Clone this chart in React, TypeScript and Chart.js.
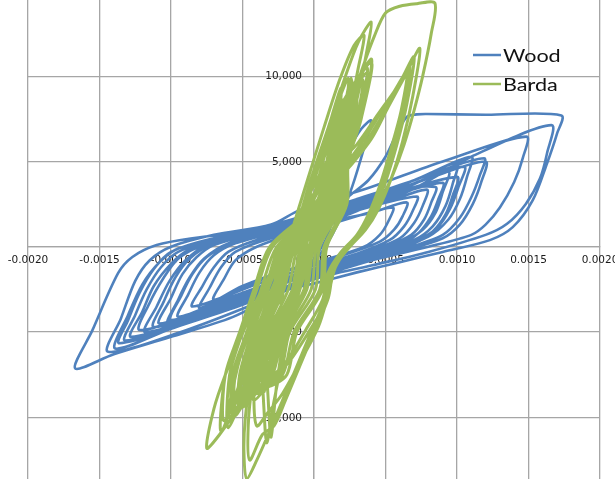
import React, { useEffect, useRef } from "react";
import { Chart, registerables } from "chart.js";

Chart.register(...registerables);

// Strain (x) / force (y) hysteresis histories for the two specimens.
const WOOD: [number, number][] = [
  [0, 0], [0.00005, 900], [0.0001, 2000], [0.00015, 2800], [0.00018, 3000],
  [0.00014, 1800], [0.00008, 400], [0, -700], [-0.00008, -1600], [-0.00013, -2300], [-0.00015, -2600],
  [-0.00011, -1500], [-0.00005, -300], [0.00003, 1000], [0.0001, 2600], [0.00016, 4200], [0.00021, 5600], [0.00025, 6660],
  [0.0002, 4800], [0.00013, 2600], [0.00005, 800], [-0.00004, -900], [-0.00012, -2600], [-0.0002, -4300], [-0.00024, -5500], [-0.00026, -6230],
  [-0.0002, -4300], [-0.00013, -2300], [-0.00004, -300], [0.00005, 1500], [0.00014, 3600], [0.00024, 5600], [0.00033, 6900], [0.0004, 7400],
  [0.00035, 5800], [0.00027, 3600], [0.00018, 1600], [0.00008, 0], [-0.00005, -1500], [-0.00015, -3200], [-0.0002, -4500], [-0.00024, -5600], [-0.00027, -6450], [-0.00036, -7200], [-0.0005, -7400],
  [-0.00046, -5800], [-0.0004, -4000], [-0.00032, -2400], [-0.0002, -900], [-0.00005, 500], [0.0001, 1900], [0.00025, 3000], [0.00038, 3900], [0.0005, 5280], [0.00058, 6660], [0.00065, 7620], [0.00072, 7760], [0.00079, 7780], [0.0012, 7740], [0.00173, 7700],
  [0.0017, 6650], [0.00163, 4900], [0.00153, 2730], [0.00139, 1150], [0.00123, 390], [0.0009, -300], [0.0006, -900], [0.0003, -1500], [0, -2150], [-0.00019, -2540], [-0.00057, -4120], [-0.00101, -5300], [-0.0014, -6300], [-0.00167, -7130],
  [-0.00155, -4900], [-0.00137, -1550], [-0.00127, -600], [-0.0011, 100], [-0.00085, 500], [-0.00038, 980], [0, 1560], [0.00063, 3140], [0.0011, 5280], [0.00166, 7130],
  [0.00163, 5500], [0.00158, 4000], [0.00148, 2500], [0.00135, 1350], [0.0012, 700], [0.0008, -300], [0.0004, -1100], [0, -1900], [-0.0004, -3300], [-0.0009, -4900], [-0.00144, -6150],
  [-0.00135, -4200], [-0.00125, -2000], [-0.00115, -800], [-0.001, 0], [-0.0007, 700], [-0.0003, 1300], [-0.0001, 2150], [0.0004, 3500], [0.0009, 5000], [0.001485, 6460],
  [0.00146, 5200], [0.0014, 3800], [0.0013, 2300], [0.0012, 1300], [0.0011, 700], [0.0008, 0], [0.0004, -800], [0, -1700], [-0.0005, -3400], [-0.001, -4800], [-0.00139, -5960],
  [-0.0013, -4000], [-0.0012, -2200], [-0.00108, -900], [-0.00095, -100], [-0.0006, 600], [-0.0002, 1400], [0.0003, 2700], [0.0008, 4200], [0.00119, 5190],
  [0.00116, 4200], [0.0011, 2900], [0.00102, 1700], [0.0009, 700], [0.0006, -200], [0.0002, -1100], [-0.0002, -2100], [-0.0007, -3900], [-0.00136, -5650],
  [-0.0013, -4300], [-0.00122, -2700], [-0.00112, -1300], [-0.001, -300], [-0.0007, 500], [-0.0003, 1100], [0.0002, 2300], [0.0007, 3900], [0.0011, 5280],
  [0.00107, 4100], [0.00102, 2800], [0.00094, 1600], [0.0008, 600], [0.0005, -300], [0.0001, -1300], [-0.0003, -2400], [-0.0008, -4000], [-0.00128, -5280],
  [-0.0012, -3800], [-0.00112, -2300], [-0.001, -1000], [-0.00088, -200], [-0.0006, 600], [-0.0002, 1500], [0.0003, 2800], [0.0007, 3900], [0.001, 4900],
  [0.00097, 3700], [0.00092, 2400], [0.00083, 1200], [0.0007, 400], [0.0004, -400], [0, -1400], [-0.0004, -2600], [-0.0008, -3800], [-0.00122, -4880],
  [-0.00115, -3300], [-0.00105, -1800], [-0.00095, -700], [-0.0008, 0], [-0.0005, 700], [-0.0001, 1500], [0.0004, 2700], [0.001, 4100],
  [0.00097, 3000], [0.00092, 1900], [0.00083, 900], [0.0007, 200], [0.0004, -600], [0, -1500], [-0.0005, -2800], [-0.00108, -4500],
  [-0.001, -3000], [-0.00092, -1600], [-0.00082, -600], [-0.0007, 100], [-0.0004, 800], [0, 1600], [0.0004, 2600], [0.0009, 3750],
  [0.00087, 2800], [0.00082, 1800], [0.00073, 800], [0.0006, 100], [0.0003, -700], [-0.0001, -1600], [-0.0005, -2900], [-0.001, -4300],
  [-0.00093, -2900], [-0.00085, -1600], [-0.00075, -600], [-0.0006, 100], [-0.0003, 900], [0.0001, 1800], [0.0005, 2600], [0.00079, 3350],
  [0.00076, 2400], [0.0007, 1400], [0.0006, 500], [0.0004, -200], [0.0001, -1000], [-0.0003, -2100], [-0.0006, -3000], [-0.00095, -4100],
  [-0.00088, -2800], [-0.0008, -1500], [-0.0007, -500], [-0.00055, 200], [-0.0002, 1000], [0.0002, 1900], [0.00072, 2950],
  [0.00069, 2100], [0.00063, 1200], [0.00053, 400], [0.0003, -400], [0, -1100], [-0.0004, -2200], [-0.00085, -3500],
  [-0.00078, -2300], [-0.0007, -1200], [-0.0006, -300], [-0.0004, 400], [0, 1300], [0.0004, 2000], [0.00065, 2600],
  [0.00062, 1800], [0.00056, 1000], [0.00046, 300], [0.0002, -500], [-0.0002, -1400], [-0.0005, -2300], [-0.0008, -3600],
  [-0.00073, -2400], [-0.00065, -1200], [-0.00055, -300], [-0.0003, 500], [0.0001, 1300], [0.00055, 2300],
  [0.00052, 1500], [0.00046, 700], [0.00035, 0], [0.0001, -700], [-0.0003, -1700], [-0.0007, -3100],
  [-0.00063, -1900], [-0.00055, -800], [-0.0004, 0], [-0.0001, 900], [0.0003, 2100], [0.0006, 3300], [0.00094, 4400],
  [0.0009, 3200], [0.00085, 2000], [0.00076, 1000], [0.0006, 200], [0.0002, -900], [-0.0002, -2000], [-0.0006, -3300], [-0.00112, -4700],
  [-0.00105, -3200], [-0.00097, -1800], [-0.00087, -700], [-0.0007, 200], [-0.0003, 1000], [0.0001, 2000], [0.0006, 3400], [0.00105, 4700],
  [0.00101, 3500], [0.00095, 2200], [0.00086, 1100], [0.0007, 300], [0.0003, -800], [-0.0001, -1800], [-0.0006, -3500], [-0.00118, -5000],
  [-0.0011, -3500], [-0.00101, -2000], [-0.0009, -800], [-0.00075, 100], [-0.0004, 900], [0, 1800], [0.0005, 3200], [0.00085, 3500],
  [0.00082, 2600], [0.00077, 1600], [0.00068, 700], [0.0005, 0], [0.0002, -800], [-0.0002, -1900], [-0.0006, -3200], [-0.00102, -4500],
  [-0.00095, -3100], [-0.00087, -1800], [-0.00077, -700], [-0.0006, 200], [-0.0002, 1100], [0.0003, 2500], [0.0008, 4000], [0.0012, 5000],
  [0.00117, 3800], [0.00111, 2500], [0.00102, 1300], [0.0009, 500], [0.0006, -300], [0.0002, -1300], [-0.0003, -2700], [-0.0008, -4100], [-0.00132, -5500],
  [-0.00125, -4000], [-0.00117, -2500], [-0.00107, -1200], [-0.00095, -300], [-0.0007, 400], [-0.0003, 1200], [0.0001, 2000], [0.0003, 2400],
];

const BARDA: [number, number][] = [
  [0, 0], [0.00004, 2000], [0.0001, 4000],
  [0.00005, 1500], [-0.00005, -1000], [-0.00015, -3000],
  [-0.00013, -1500], [-0.00008, 500], [0, 3000], [0.00008, 5500], [0.00013, 6650],
  [0.0001, 4500], [0.00004, 2000], [-0.00005, -500], [-0.00013, -2800], [-0.0002, -4800], [-0.00025, -6000],
  [-0.00024, -4000], [-0.0002, -2000], [-0.00012, 500], [-0.00003, 3000], [0.00006, 5500], [0.00013, 7800], [0.00019, 9300],
  [0.00016, 7000], [0.0001, 4500], [0.00002, 2000], [-0.00008, -500], [-0.00017, -3000], [-0.00026, -5500], [-0.00032, -7300], [-0.00035, -8500],
  [-0.00034, -6500], [-0.0003, -4000], [-0.00022, -1500], [-0.00013, 1000], [-0.00003, 3500], [0.00008, 6000], [0.00017, 8500], [0.00024, 9870],
  [0.00022, 8000], [0.00017, 5500], [0.0001, 3000], [0, 500], [-0.0001, -2200], [-0.0002, -5000], [-0.00026, -8000], [-0.0003, -11150],
  [-0.00032, -9000], [-0.00033, -6500], [-0.0003, -4000], [-0.00022, -1500], [-0.00012, 1200], [-0.00002, 4000], [0.0001, 7000], [0.00022, 10000], [0.00031, 12000], [0.0004, 13170],
  [0.00037, 11500], [0.00031, 9000], [0.00024, 6500], [0.00016, 4000], [0.00006, 1500], [-0.00005, -1200], [-0.00015, -4000], [-0.00023, -7000], [-0.00029, -9500], [-0.00033, -11500],
  [-0.00035, -9500], [-0.00036, -7000], [-0.00033, -4500], [-0.00026, -2000], [-0.00016, 800], [-0.00005, 3800], [0.00007, 7000], [0.00018, 9800], [0.00028, 11800], [0.00035, 12400],
  [0.00031, 10500], [0.00025, 8000], [0.00018, 5500], [0.0001, 3000], [0, 500], [-0.00012, -2200], [-0.00025, -4800], [-0.00038, -7200], [-0.00052, -9300], [-0.00066, -11000], [-0.00075, -11800],
  [-0.0007, -9500], [-0.00062, -7500], [-0.00052, -5500], [-0.0004, -3100], [-0.0003, -1550], [-0.00017, 400], [-0.00005, 2500], [0.00008, 4000], [0.00018, 5000], [0.0003, 6000], [0.00045, 7800], [0.00056, 9100], [0.00065, 10260],
  [0.00061, 8000], [0.00054, 5800], [0.00046, 3600], [0.00038, 1900], [0.0003, 700], [0.00018, -400], [0.0001, -1500], [0.00006, -3100], [-0.00006, -4900], [-0.0002, -6800], [-0.00035, -8000], [-0.0005, -9000],
  [-0.00045, -7000], [-0.0004, -5000], [-0.00032, -3000], [-0.00022, -1000], [-0.0001, 1200], [0.00003, 3300], [0.0002, 4600], [0.00035, 6300], [0.00047, 7900], [0.00058, 9300], [0.00067, 10650],
  [0.00063, 8200], [0.00056, 5900], [0.00048, 3700], [0.0004, 2000], [0.00032, 800], [0.0002, -300], [0.00012, -1500], [0.00008, -3000], [-0.00002, -5000], [-0.00012, -7000], [-0.00022, -9000], [-0.00032, -11000], [-0.0004, -12500], [-0.00047, -13600],
  [-0.00049, -12000], [-0.00048, -10000], [-0.00044, -7500], [-0.00038, -5000], [-0.0003, -2700], [-0.0002, -600], [-0.00008, 1600], [0.00005, 3000], [0.0002, 4400], [0.00036, 6100], [0.0005, 8000], [0.0006, 9600], [0.0007, 11140],
  [0.00065, 8400], [0.00058, 6000], [0.0005, 3800], [0.00042, 2100], [0.00034, 900], [0.00022, -200], [0.00013, -1400], [0.00009, -3100], [-0.00003, -4900], [-0.00018, -6800], [-0.00035, -8200], [-0.0005, -9200], [-0.0006, -10000],
  [-0.00056, -8000], [-0.0005, -6000], [-0.00042, -4000], [-0.00033, -2000], [-0.00022, 0], [-0.00005, 1800], [0.0001, 3300], [0.00025, 4700], [0.0004, 6300], [0.00052, 8200], [0.00063, 9900], [0.00074, 11630],
  [0.00069, 8800], [0.00062, 6200], [0.00054, 4000], [0.00045, 2200], [0.00036, 1000], [0.00024, -100], [0.00014, -1300], [0.0001, -3000], [0, -5000], [-0.0001, -7000], [-0.0002, -9000], [-0.00028, -10500], [-0.00036, -11000], [-0.00045, -12500],
  [-0.00046, -10500], [-0.00043, -8000], [-0.00037, -5500], [-0.00029, -3000], [-0.0002, -800], [-0.00008, 1500], [0.00005, 3800], [0.00015, 6000], [0.00025, 8300], [0.00034, 10500], [0.00042, 12300], [0.0005, 13700], [0.0006, 14100], [0.00072, 14250], [0.000845, 14290],
  [0.00082, 12500], [0.00076, 10000], [0.0007, 8000], [0.00063, 6000], [0.00055, 4200], [0.00046, 2600], [0.00036, 1200], [0.00024, 0], [0.00015, -1200], [0.0001, -2800], [0.00003, -4700], [-0.0001, -6800], [-0.00022, -8600], [-0.00033, -9800], [-0.0004, -10500],
  [-0.00042, -8800], [-0.0004, -6800], [-0.00035, -4800], [-0.00028, -2600], [-0.00018, -500], [-0.00006, 1800], [0.00006, 3800], [0.00015, 5800], [0.00023, 7300], [0.0003, 8500],
  [0.00026, 6800], [0.0002, 4800], [0.00012, 2600], [0.00002, 400], [-0.0001, -2000], [-0.00022, -4500], [-0.00034, -6800], [-0.00045, -8300], [-0.00055, -9500],
  [-0.00052, -7800], [-0.00046, -5800], [-0.00038, -3800], [-0.00028, -1600], [-0.00017, 700], [-0.00005, 2800], [0.00007, 4700], [0.00017, 6300], [0.00025, 7500],
  [0.00021, 5800], [0.00015, 4000], [0.00007, 2000], [-0.00003, 0], [-0.00014, -2300], [-0.00025, -4500], [-0.00034, -6200], [-0.0004, -7500],
  [-0.00038, -5800], [-0.00033, -4000], [-0.00025, -2000], [-0.00015, 200], [-0.00004, 2300], [0.00006, 4200], [0.00015, 5500],
  [0.00011, 3800], [0.00004, 1800], [-0.00005, -300], [-0.00015, -2500], [-0.00024, -4000], [-0.0003, -5000],
  [-0.00027, -3300], [-0.0002, -1500], [-0.0001, 500], [0, 2000], [0.00005, 2800],
  [0.00014, 5000], [0.0002, 7500], [0.00029, 9000],
  [0.00027, 7500], [0.00019, 5000], [0.00016, 2500], [-0.00004, 0], [-0.0001, -2500], [-0.00025, -5000], [-0.00033, -7500], [-0.00047, -9000],
  [-0.00048, -7500], [-0.00039, -5000], [-0.00026, -2500], [-0.00018, 0], [0.00008, 2500], [0.00014, 5000], [0.0002, 7500], [0.00023, 8000],
  [0.00016, 5000], [0.00011, 2500], [-0.00013, 0], [-0.00021, -2500], [-0.00034, -5000], [-0.00043, -7500], [-0.00057, -9800],
  [-0.00057, -7500], [-0.00047, -5000], [-0.00037, -2500], [-0.00026, 0], [0.00004, 2500], [0.00011, 5000], [0.00016, 7500], [0.00037, 10500],
  [0.00031, 7500], [0.00022, 5000], [0.0002, 2500], [0.00004, 0], [0.00001, -2500], [-0.00017, -5000], [-0.00024, -7500], [-0.00038, -8500],
  [-0.00038, -7500], [-0.0003, -5000], [-0.00015, -2500], [-0.00009, 0], [0.00013, 2500], [0.00017, 5000], [0.00025, 7500], [0.00025, 9600],
  [0.0002, 7500], [0.00014, 5000], [0.00008, 2500], [-0.00018, 0], [-0.00026, -2500], [-0.00039, -5000], [-0.00048, -7500], [-0.00063, -10200],
  [-0.00062, -7500], [-0.00052, -5000], [-0.00042, -2500], [-0.00031, 0], [0.00001, 2500], [0.00009, 5000], [0.00014, 7500], [0.0003, 8800],
  [0.00021, 5000], [0.00018, 2500], [0, 0], [-0.00005, -2500], [-0.00021, -5000], [-0.00029, -7500], [-0.00042, -9000],
  [-0.00043, -7500], [-0.00034, -5000], [-0.00021, -2500], [-0.00013, 0], [0.00011, 2500], [0.00016, 5000], [0.00022, 7500], [0.00028, 9300],
  [0.00025, 7500], [0.00017, 5000], [0.00013, 2500], [-0.00009, 0], [-0.00015, -2500], [-0.0003, -5000], [-0.00038, -7500], [-0.00052, -9500],
  [-0.00052, -7500], [-0.00043, -5000], [-0.00032, -2500], [-0.00022, 0], [0.00006, 2500], [0.00012, 5000], [0.00018, 7500], [0.0004, 11000],
  [0.00033, 7500], [0.00024, 5000], [0.00023, 2500], [0.00009, 0], [0.00006, -2500], [-0.00012, -5000], [-0.00019, -7500], [-0.00033, -8200],
  [-0.00033, -7500], [-0.00025, -5000], [-0.0001, -2500], [-0.00004, 0], [0.00016, 2500], [0.00019, 5000], [0.00027, 7500], [0.00026, 9900],
  [0.00021, 7500], [0.00015, 5000], [0.0001, 2500], [-0.00015, 0], [-0.00023, -2500], [-0.00036, -5000], [-0.00045, -7500], [-0.0006, -10600],
  [-0.00059, -7500], [-0.0005, -5000], [-0.0004, -2500], [-0.00029, 0], [0.00002, 2500], [0.0001, 5000], [0.00015, 7500], [0.00028, 8400],
  [0.0002, 5000], [0.00017, 2500], [-0.00002, 0], [-0.00007, -2500], [-0.00023, -5000], [-0.00031, -7500], [-0.00044, -8800],
  [-0.00045, -7500], [-0.00036, -5000], [-0.00023, -2500], [-0.00015, 0], [0.0001, 2500], [0.00015, 5000], [0.00021, 7500], [0.00024, 9100],
  [0.00017, 5000], [0.00012, 2500], [-0.00011, 0], [-0.00018, -2500], [-0.00032, -5000], [-0.00041, -7500], [-0.00055, -9900],
  [-0.00055, -7500], [-0.00045, -5000], [-0.00034, -2500], [-0.00024, 0], [0.00005, 2500], [0.00011, 5000], [0.00017, 7500], [0.00037, 10200],
  [0.00032, 7500], [0.00023, 5000], [0.00022, 2500], [0.00007, 0], [0.00004, -2500], [-0.00014, -5000], [-0.00022, -7500], [-0.00035, -8100],
  [-0.00036, -7500], [-0.00028, -5000], [-0.00013, -2500], [-0.00007, 0], [0.00014, 2500], [0.00018, 5000], [0.00026, 7500], [0.0003, 9500],
  [0.00026, 7500], [0.00018, 5000], [0.00014, 2500], [-0.00007, 0], [-0.00013, -2500], [-0.00028, -5000], [-0.00036, -7500], [-0.0005, -9400],
  [-0.0005, -7500], [-0.00041, -5000], [-0.00029, -2500], [-0.0002, 0], [0.00007, 2500], [0.00013, 5000], [0.00019, 7500], [0.00034, 9800],
  [0.0003, 7500], [0.00022, 5000], [0.00019, 2500], [0.00002, 0], [-0.00002, -2500], [-0.00019, -5000], [-0.00026, -7500], [-0.0004, -8600],
  [-0.00041, -7500], [-0.00032, -5000], [-0.00018, -2500], [-0.00011, 0], [0.00012, 2500], [0.00017, 5000], [0.00024, 7500], [0.0002, 8600],
  [0.00019, 7500], [0.00013, 5000], [0.00007, 2500], [-0.0002, 0], [-0.00029, -2500], [-0.00041, -5000], [-0.0005, -7500], [-0.00065, -10800],
  [-0.00062, -7500], [-0.00052, -5000], [-0.00042, -2500], [-0.00031, 0], [0.00001, 2500], [0.00009, 5000], [0.00014, 7500], [0.0004, 10800],
  [0.00033, 7500], [0.00024, 5000], [0.00023, 2500], [0.00009, 0], [0.00006, -2500], [-0.00012, -5000], [-0.00019, -7500], [-0.0003, -7900],
  [-0.00031, -7500], [-0.00023, -5000], [-0.00007, -2500], [-0.00002, 0], [0.00017, 2500], [0.0002, 5000], [0.00028, 7500], [0.0003, 8000],
  [0.00025, 6000], [0.00018, 3500], [0.0001, 1500], [0.00002, 0],
];

const SERIES_NAMES = ["Wood", "Barda"];
const SERIES_COLORS = ["#4F81BD", "#9BBB59"];

// Axis extents, grid spacing and labelled force ticks
const X_MIN = -0.002;
const X_MAX = 0.002;
const X_STEP = 0.0005;
const Y_MIN = -13610;
const Y_MAX = 14465;
const Y_STEP = 5000;
const Y_TICKS = [-10000, -5000, 0, 5000, 10000];

const LABEL_FONT = "10.5px DejaVu Sans";
const LABEL_COLOR = "#1a1a1a";

const toPoints = (rows: [number, number][]) => rows.map(([x, y]) => ({ x, y }));
const formatForce = (v: number) =>
  (v < 0 ? "-" : "") + String(Math.abs(Math.round(v))).replace(/\B(?=(\d{3})+(?!\d))/g, ",");

// Force labels sit just left of the vertical axis line, beneath the curves
const forceLabels = {
  id: "forceLabels",
  beforeDatasetsDraw(chart: any) {
    const ctx: CanvasRenderingContext2D = chart.ctx;
    const xs = chart.scales["x"];
    const ys = chart.scales["y"];
    const axisX = xs.getPixelForValue(0);
    ctx.save();
    ctx.globalAlpha = 1;
    ctx.globalCompositeOperation = "source-over";
    ctx.font = LABEL_FONT;
    ctx.fillStyle = LABEL_COLOR;
    ctx.textAlign = "right";
    ctx.textBaseline = "middle";
    for (const v of Y_TICKS) {
      ctx.fillText(formatForce(v), axisX - 12, ys.getPixelForValue(v) + 0.5);
    }
    ctx.restore();
  },
};

// Legend drawn inside the plot, upper right, with line swatches
const insideLegend = {
  id: "insideLegend",
  afterDraw(chart: any) {
    const ctx: CanvasRenderingContext2D = chart.ctx;
    const chartArea = chart.chartArea;
    const swatchLeft = chartArea.right - 127;
    const swatchRight = chartArea.right - 99;
    const textLeft = chartArea.right - 97;
    const rows = [55, 84];
    ctx.save();
    SERIES_NAMES.forEach((name, i) => {
      const y = chartArea.top + rows[i];
      ctx.strokeStyle = SERIES_COLORS[i];
      ctx.lineWidth = 2.5;
      ctx.beginPath();
      ctx.moveTo(swatchLeft, y);
      ctx.lineTo(swatchRight, y);
      ctx.stroke();
      ctx.save();
      ctx.translate(textLeft, y + 6.5);
      ctx.scale(1.27, 1);
      ctx.fillStyle = "#111";
      ctx.font = "17px Lato";
      ctx.textBaseline = "alphabetic";
      ctx.textAlign = "left";
      ctx.fillText(name, 0, 0);
      ctx.restore();
    });
    ctx.restore();
  },
};

const noPadding = (scale: any) => {
  scale.paddingLeft = 0;
  scale.paddingRight = 0;
  scale.paddingTop = 0;
  scale.paddingBottom = 0;
};

export default function App() {
  const canvasRef = useRef<HTMLCanvasElement | null>(null);

  useEffect(() => {
    const canvas = canvasRef.current;
    if (!canvas) return;
    const gridColor = "#a6a6a6";
    const chart = new Chart(canvas, {
      type: "scatter",
      data: {
        datasets: [
          {
            label: SERIES_NAMES[0],
            data: toPoints(WOOD),
            showLine: true,
            borderColor: SERIES_COLORS[0],
            backgroundColor: SERIES_COLORS[0],
            borderWidth: 2.6,
            pointRadius: 0,
            tension: 0.3,
            borderJoinStyle: "round",
            borderCapStyle: "round",
            order: 1,
          },
          {
            label: SERIES_NAMES[1],
            data: toPoints(BARDA),
            showLine: true,
            borderColor: SERIES_COLORS[1],
            backgroundColor: SERIES_COLORS[1],
            borderWidth: 3,
            pointRadius: 0,
            tension: 0.3,
            borderJoinStyle: "round",
            borderCapStyle: "round",
            order: 0,
          },
        ],
      },
      options: {
        responsive: false,
        animation: false,
        layout: { padding: { left: 28, right: 15, top: 0, bottom: 0 } },
        plugins: {
          legend: { display: false },
          tooltip: { enabled: false },
        },
        scales: {
          x: {
            type: "linear",
            position: { y: 0 },
            min: X_MIN,
            max: X_MAX,
            afterFit: noPadding,
            ticks: {
              stepSize: X_STEP,
              padding: 7,
              color: LABEL_COLOR,
              font: { family: "DejaVu Sans", size: 10.5 },
              callback: (v: any) => {
                const n = Number(v);
                return (Math.abs(n) < 1e-12 ? 0 : n).toFixed(4);
              },
            },
            grid: { color: gridColor, lineWidth: 1.3, drawTicks: false },
            border: { color: gridColor, width: 1.3 },
          },
          y: {
            type: "linear",
            position: { x: 0 },
            min: Y_MIN,
            max: Y_MAX,
            afterFit: noPadding,
            afterBuildTicks: (scale: any) => {
              scale.ticks = Y_TICKS.map((value) => ({ value }));
            },
            ticks: {
              display: false,
              stepSize: Y_STEP,
            },
            grid: { color: gridColor, lineWidth: 1.3, drawTicks: false },
            border: { color: gridColor, width: 1.3 },
          },
        },
      },
      plugins: [forceLabels, insideLegend],
    });
    return () => chart.destroy();
  }, []);

  return (
    <div
      style={{
        position: "absolute",
        left: 0,
        top: 0,
        width: 615,
        height: 479,
        background: "#ffffff",
      }}
    >
      <canvas ref={canvasRef} width={615} height={479} />
    </div>
  );
}
